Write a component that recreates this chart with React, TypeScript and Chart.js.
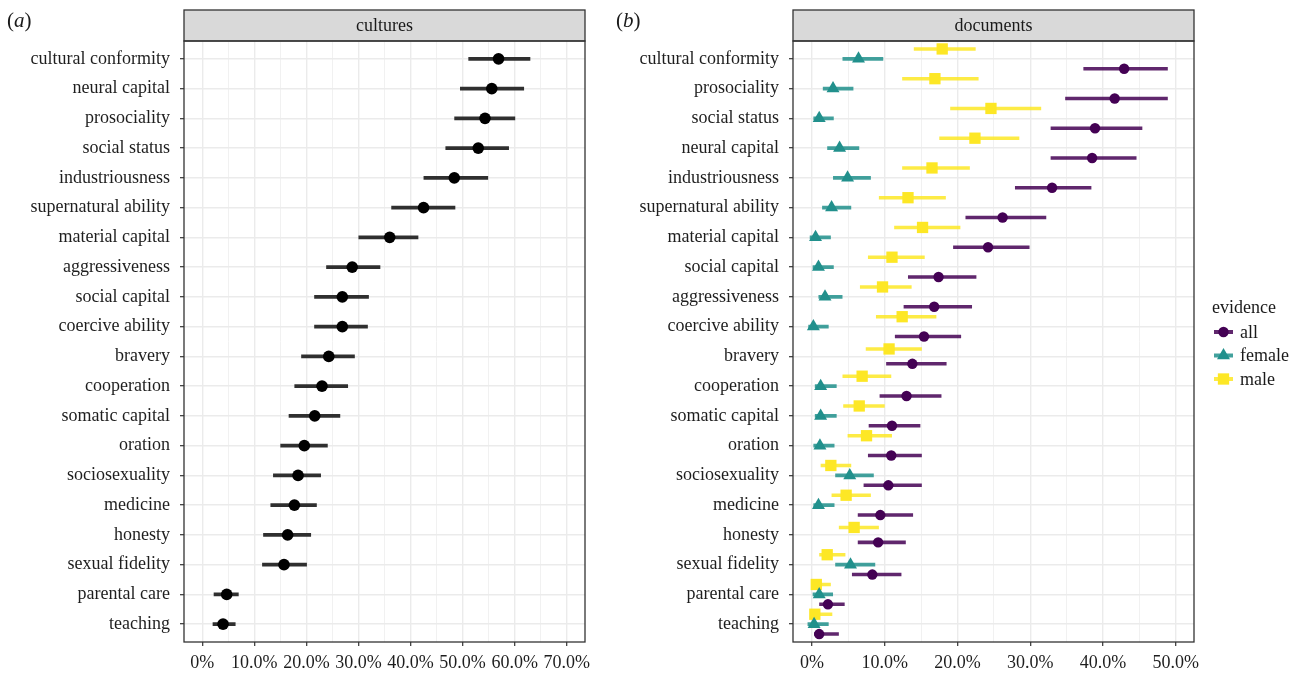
import React, { useEffect, useRef } from 'react';
import { Chart, registerables } from 'chart.js';

Chart.register(...registerables);

const FONT = '"Liberation Serif", "Times New Roman", serif';

// ---------------- panel (a): cultures ----------------
const cultureTitle = 'cultures';
const cultureCategories = [
  'cultural conformity', 'neural capital', 'prosociality', 'social status', 'industriousness',
  'supernatural ability', 'material capital', 'aggressiveness', 'social capital', 'coercive ability',
  'bravery', 'cooperation', 'somatic capital', 'oration', 'sociosexuality',
  'medicine', 'honesty', 'sexual fidelity', 'parental care', 'teaching',
];
const cultureMid = [56.9, 55.6, 54.3, 53.0, 48.4, 42.5, 36.0, 28.8, 26.9, 26.9, 24.3, 23.0, 21.6, 19.6, 18.4, 17.7, 16.4, 15.7, 4.7, 4.0];
const cultureLow = [51.1, 49.5, 48.4, 46.7, 42.5, 36.3, 30.0, 23.8, 21.5, 21.5, 19.0, 17.7, 16.6, 15.0, 13.6, 13.1, 11.7, 11.5, 2.2, 2.0];
const cultureHigh = [63.0, 61.8, 60.1, 58.9, 54.9, 48.6, 41.5, 34.2, 32.0, 31.8, 29.3, 28.0, 26.5, 24.1, 22.8, 22.0, 20.9, 20.1, 7.0, 6.4];
const cultureTickValues = [0, 10, 20, 30, 40, 50, 60, 70];
const cultureTickLabels = ['0%', '10.0%', '20.0%', '30.0%', '40.0%', '50.0%', '60.0%', '70.0%'];

// ---------------- panel (b): documents ----------------
const documentTitle = 'documents';
const documentCategories = [
  'cultural conformity', 'prosociality', 'social status', 'neural capital', 'industriousness',
  'supernatural ability', 'material capital', 'social capital', 'aggressiveness', 'coercive ability',
  'bravery', 'cooperation', 'somatic capital', 'oration', 'sociosexuality',
  'medicine', 'honesty', 'sexual fidelity', 'parental care', 'teaching',
];
const allMid = [42.9, 41.6, 38.9, 38.5, 33.0, 26.2, 24.2, 17.4, 16.8, 15.4, 13.8, 13.0, 11.0, 10.9, 10.5, 9.4, 9.1, 8.3, 2.2, 1.0];
const allLow = [37.3, 34.8, 32.8, 32.8, 27.9, 21.1, 19.4, 13.2, 12.6, 11.4, 10.2, 9.3, 7.8, 7.7, 7.1, 6.3, 6.3, 5.5, 1.0, 0.3];
const allHigh = [48.9, 48.9, 45.4, 44.6, 38.4, 32.2, 29.9, 22.6, 22.0, 20.5, 18.5, 17.8, 14.9, 15.1, 15.1, 13.9, 12.9, 12.3, 4.5, 3.7];
const femaleMid = [6.4, 2.9, 1.0, 3.8, 4.9, 2.7, 0.5, 0.9, 1.8, 0.2, null, 1.2, 1.2, 1.1, 5.2, 0.9, null, 5.3, 1.0, 0.3];
const femaleLow = [4.2, 1.5, 0.2, 2.1, 2.9, 1.4, -0.3, 0.1, 0.9, -0.5, null, 0.4, 0.4, 0.2, 3.2, 0.2, null, 3.2, 0.1, -0.6];
const femaleHigh = [9.8, 5.7, 3.0, 6.5, 8.1, 5.4, 2.6, 3.0, 4.2, 2.3, null, 3.4, 3.4, 3.1, 8.5, 3.1, null, 8.7, 2.9, 2.3];
const maleMid = [17.9, 16.9, 24.6, 22.4, 16.5, 13.2, 15.2, 11.0, 9.7, 12.4, 10.6, 6.9, 6.5, 7.5, 2.6, 4.7, 5.8, 2.1, 0.6, 0.4];
const maleLow = [14.0, 12.4, 19.0, 17.5, 12.4, 9.2, 11.3, 7.7, 6.6, 8.8, 7.4, 4.2, 4.3, 4.9, 1.2, 2.7, 3.7, 1.0, -0.1, -0.2];
const maleHigh = [22.5, 22.9, 31.5, 28.5, 21.7, 18.4, 20.4, 15.5, 13.7, 17.1, 15.1, 10.9, 10.0, 11.0, 5.4, 8.1, 9.2, 4.6, 2.6, 2.8];
const documentTickValues = [0, 10, 20, 30, 40, 50];
const documentTickLabels = ['0%', '10.0%', '20.0%', '30.0%', '40.0%', '50.0%'];
const legendTitle = 'evidence';

type Series = {
  name: string;
  mid: (number | null)[];
  low: (number | null)[];
  high: (number | null)[];
  color: string;
  lineColor: string;
  pointStyle: string;
  radius: number;
  legend: boolean;
};

type Panel = {
  title: string;
  categories: string[];
  series: Series[]; // dodge order, top to bottom
  legendOrder: number[];
  tickValues: number[];
  tickLabels: string[];
  xMin: number;
  xMax: number;
  yAxisWidth: number;
  padRight: number;
  legendTitle?: string;
};

function buildDatasets(p: Panel) {
  const n = p.categories.length;
  const ys: number[][] = p.series.map(() => new Array(n).fill(NaN));
  for (let i = 0; i < n; i++) {
    const present = p.series.filter((s) => s.mid[i] != null).length;
    let k = 0;
    p.series.forEach((s, si) => {
      if (s.mid[i] != null) {
        ys[si][i] = i + 1 + (k - (present - 1) / 2) / present;
        k++;
      }
    });
  }
  const pointSets: any[] = [];
  const lineSets: any[] = [];
  p.series.forEach((s, si) => {
    const pts: any[] = [];
    const segs: any[] = [];
    for (let i = 0; i < n; i++) {
      if (s.mid[i] == null) continue;
      pts.push({ x: s.mid[i], y: ys[si][i] });
      segs.push({ x: s.low[i], y: ys[si][i] });
      segs.push({ x: s.high[i], y: ys[si][i] });
      segs.push({ x: null, y: null });
    }
    lineSets.push({
      label: s.name + ' interval',
      data: segs,
      showLine: true,
      spanGaps: false,
      borderColor: s.lineColor,
      borderWidth: 3.6,
      borderCapStyle: 'butt',
      pointRadius: 0,
      pointHoverRadius: 0,
      order: 2,
    });
    pointSets.push({
      label: s.name,
      data: pts,
      showLine: false,
      pointStyle: s.pointStyle,
      pointRadius: s.radius,
      pointHoverRadius: s.radius,
      backgroundColor: s.color,
      borderColor: s.color,
      borderWidth: 0,
      order: 1,
      legendEntry: s.legend,
      lineColor: s.lineColor,
    });
  });
  const orderedPoints = p.legendOrder.map((i) => pointSets[i]);
  return [...orderedPoints, ...lineSets];
}

const panelFramePlugin = {
  id: 'panelFrame',
  afterDraw(chart: any, _args: any, opts: any) {
    const { ctx } = chart;
    const { left, right, top, bottom } = chart.chartArea;
    const stripH = 31;
    ctx.save();
    ctx.fillStyle = '#D9D9D9';
    ctx.fillRect(left, top - stripH, right - left, stripH);
    ctx.strokeStyle = '#333333';
    ctx.lineWidth = 1.3;
    ctx.strokeRect(left, top - stripH, right - left, stripH);
    ctx.strokeRect(left, top, right - left, bottom - top);
    ctx.fillStyle = '#1a1a1a';
    ctx.font = `18px ${FONT}`;
    ctx.textAlign = 'center';
    ctx.textBaseline = 'alphabetic';
    ctx.fillText(opts.title, (left + right) / 2, top - 10);
    ctx.restore();
  },
};

function drawMarker(ctx: CanvasRenderingContext2D, style: string, x: number, y: number, r: number, color: string) {
  ctx.fillStyle = color;
  ctx.beginPath();
  if (style === 'triangle') {
    let a = 0;
    ctx.moveTo(x + Math.sin(a) * r, y - Math.cos(a) * r);
    a += (2 * Math.PI) / 3;
    ctx.lineTo(x + Math.sin(a) * r, y - Math.cos(a) * r);
    a += (2 * Math.PI) / 3;
    ctx.lineTo(x + Math.sin(a) * r, y - Math.cos(a) * r);
    ctx.closePath();
  } else if (style === 'rect') {
    const h = r * Math.SQRT1_2;
    ctx.rect(x - h, y - h, 2 * h, 2 * h);
  } else {
    ctx.arc(x, y, r, 0, Math.PI * 2);
  }
  ctx.fill();
}

const evidenceLegendPlugin = {
  id: 'evidenceLegend',
  afterDraw(chart: any, _args: any, opts: any) {
    if (!opts || !opts.title) return;
    const { ctx } = chart;
    const { right, top, bottom } = chart.chartArea;
    const x0 = right + 18;
    const cy = (top + bottom) / 2;
    ctx.save();
    ctx.font = `18px ${FONT}`;
    ctx.fillStyle = '#1a1a1a';
    ctx.textAlign = 'left';
    ctx.textBaseline = 'alphabetic';
    ctx.fillText(opts.title, x0, cy - 28.5);
    const items = chart.data.datasets.filter((d: any) => d.legendEntry);
    items.forEach((d: any, i: number) => {
      const y = cy - 9.5 + i * 23.5;
      ctx.strokeStyle = d.lineColor;
      ctx.lineWidth = 4;
      ctx.lineCap = 'butt';
      ctx.beginPath();
      ctx.moveTo(x0 + 2, y);
      ctx.lineTo(x0 + 21, y);
      ctx.stroke();
      drawMarker(ctx, d.pointStyle, x0 + 11.5, y, d.pointRadius, d.backgroundColor);
      ctx.fillStyle = '#1a1a1a';
      ctx.fillText(d.label, x0 + 28, y + 5.5);
    });
    ctx.restore();
  },
};

function makeConfig(p: Panel): any {
  const majors = p.tickValues;
  const minors = majors.slice(0, -1).map((v, i) => (v + majors[i + 1]) / 2);
  const allTicks = [...majors, ...minors].sort((a, b) => a - b);
  const isMajor = (v: any) => majors.indexOf(v) >= 0;
  const tickFont = { family: FONT, size: 18 };
  const cats = p.categories;
  return {
    type: 'scatter',
    data: { datasets: buildDatasets(p) },
    options: {
      responsive: false,
      animation: false,
      events: [],
      layout: { padding: { left: 0, right: p.padRight, top: 41, bottom: 0 } },
      plugins: {
        legend: { display: false },
        tooltip: { enabled: false },
        panelFrame: { title: p.title },
        evidenceLegend: { title: p.legendTitle || '' },
      },
      scales: {
        x: {
          type: 'linear',
          min: p.xMin,
          max: p.xMax,
          afterBuildTicks: (s: any) => {
            s.ticks = allTicks.map((v) => ({ value: v }));
          },
          afterFit: (s: any) => {
            s.height = 33;
          },
          border: { display: false },
          grid: {
            color: (c: any) => (c.tick && isMajor(c.tick.value) ? '#EBEBEB' : '#F1F1F1'),
            lineWidth: (c: any) => (c.tick && isMajor(c.tick.value) ? 1.4 : 1.0),
            tickColor: (c: any) => (c.tick && isMajor(c.tick.value) ? '#333333' : 'rgba(0,0,0,0)'),
            tickLength: 4,
            tickWidth: 1.2,
          },
          ticks: {
            autoSkip: false,
            maxRotation: 0,
            minRotation: 0,
            padding: 6,
            color: '#1e1e1e',
            font: tickFont,
            callback: (v: any) => {
              const i = majors.indexOf(v);
              return i >= 0 ? p.tickLabels[i] : '';
            },
          },
        },
        y: {
          type: 'linear',
          reverse: true,
          min: 0.4,
          max: cats.length + 0.6,
          afterBuildTicks: (s: any) => {
            s.ticks = cats.map((_, i) => ({ value: i + 1 }));
          },
          afterFit: (s: any) => {
            s.width = p.yAxisWidth;
          },
          border: { display: false },
          grid: {
            color: '#EBEBEB',
            lineWidth: 1.4,
            tickColor: '#333333',
            tickLength: 4,
            tickWidth: 1.2,
          },
          ticks: {
            autoSkip: false,
            padding: 10,
            color: '#1e1e1e',
            font: tickFont,
            callback: (v: any) => cats[Math.round(v) - 1] ?? '',
          },
        },
      },
    },
    plugins: [panelFramePlugin, evidenceLegendPlugin],
  };
}

const culturePanel: Panel = {
  title: cultureTitle,
  categories: cultureCategories,
  series: [
    {
      name: 'cultures',
      mid: cultureMid,
      low: cultureLow,
      high: cultureHigh,
      color: '#000000',
      lineColor: 'rgba(30,30,30,0.92)',
      pointStyle: 'circle',
      radius: 5.8,
      legend: false,
    },
  ],
  legendOrder: [0],
  tickValues: cultureTickValues,
  tickLabels: cultureTickLabels,
  xMin: -3.5,
  xMax: 73.5,
  yAxisWidth: 184,
  padRight: 15,
};

const documentPanel: Panel = {
  title: documentTitle,
  categories: documentCategories,
  series: [
    { name: 'male', mid: maleMid, low: maleLow, high: maleHigh, color: '#FDE725', lineColor: 'rgba(253,231,37,0.85)', pointStyle: 'rect', radius: 8, legend: true },
    { name: 'female', mid: femaleMid, low: femaleLow, high: femaleHigh, color: '#21908C', lineColor: 'rgba(33,144,140,0.85)', pointStyle: 'triangle', radius: 7.5, legend: true },
    { name: 'all', mid: allMid, low: allLow, high: allHigh, color: '#440154', lineColor: 'rgba(68,1,84,0.85)', pointStyle: 'circle', radius: 5.2, legend: true },
  ],
  legendOrder: [2, 1, 0],
  tickValues: documentTickValues,
  tickLabels: documentTickLabels,
  xMin: -2.6,
  xMax: 52.5,
  yAxisWidth: 193,
  padRight: 105,
  legendTitle: legendTitle,
};

function ChartPanel({ panel, left, width }: { panel: Panel; left: number; width: number }) {
  const ref = useRef<HTMLCanvasElement>(null);
  useEffect(() => {
    if (!ref.current) return;
    const chart = new Chart(ref.current, makeConfig(panel));
    return () => chart.destroy();
  }, [panel]);
  return (
    <div style={{ position: 'absolute', left, top: 0, width, height: 675 }}>
      <canvas ref={ref} width={width} height={675} style={{ display: 'block', width, height: 675 }} />
    </div>
  );
}

const tagStyle: React.CSSProperties = {
  position: 'absolute',
  top: 10,
  fontSize: 21,
  lineHeight: '21px',
  color: '#1a1a1a',
  fontFamily: FONT,
};

export default function App() {
  return (
    <div
      style={{
        position: 'fixed',
        left: 0,
        top: 0,
        width: 1299,
        height: 675,
        background: '#ffffff',
        fontFamily: FONT,
        overflow: 'hidden',
      }}
    >
      <ChartPanel panel={culturePanel} left={0} width={600} />
      <ChartPanel panel={documentPanel} left={600} width={699} />
      <div style={{ ...tagStyle, left: 7 }}>
        (<i>a</i>)
      </div>
      <div style={{ ...tagStyle, left: 616 }}>
        (<i>b</i>)
      </div>
    </div>
  );
}
